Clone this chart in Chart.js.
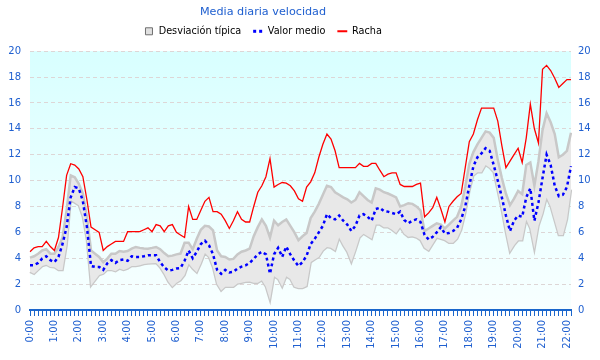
<!DOCTYPE html>
<html><head><meta charset="utf-8">
<script src="https://cdn.jsdelivr.net/npm/chart.js@4/dist/chart.umd.min.js"></script>
<style>html,body{margin:0;padding:0;background:#fff}canvas{display:block}</style>
</head><body>
<canvas id="c" width="600" height="360"></canvas>
<script>
// 10-minute steps from 0:00 to 22:10
const hours = ["0","1","2","3","4","5","6","7","8","9","10","11","12","13","14","15","16","17","18","19","20","21","22"];
const minutes = ["00","10","20","30","40","50"];
const categories = [];
hours.forEach(h => minutes.forEach(m => categories.push(h + ":" + m)));
categories.length = 134;

const racha = [4.5,4.8,4.9,4.9,5.3,4.9,4.6,5.6,7.9,10.4,11.3,11.2,10.9,10.3,8.5,6.4,6.2,6.0,4.6,4.9,5.1,5.3,5.3,5.3,6.05,6.05,6.05,6.05,6.2,6.35,6.05,6.6,6.5,6.05,6.5,6.6,6.0,5.8,5.6,8.0,7.0,7.0,7.7,8.4,8.7,7.6,7.6,7.4,6.9,6.3,6.9,7.6,7.0,6.8,6.8,8.0,9.1,9.6,10.3,11.7,9.5,9.7,9.85,9.8,9.6,9.2,8.6,8.4,9.5,9.9,10.6,11.8,12.8,13.6,13.2,12.3,11.0,11.0,11.0,11.0,11.0,11.33,11.1,11.1,11.33,11.33,10.8,10.3,10.5,10.6,10.6,9.7,9.54,9.54,9.54,9.7,9.8,7.2,7.5,7.9,8.7,7.8,6.8,8.0,8.4,8.75,9.0,11.0,13.0,13.6,14.7,15.6,15.6,15.6,15.6,14.6,12.7,11.0,11.5,12.0,12.5,11.4,13.3,15.9,14.0,12.9,18.6,18.9,18.5,17.9,17.2,17.5,17.8,17.8];

const valorMedio = [3.46,3.46,3.64,3.97,4.15,3.85,3.7,4.1,5.1,6.4,8.7,9.5,9.4,8.4,6.4,3.4,3.33,3.33,3.1,3.6,3.85,3.64,3.85,3.9,3.8,4.15,4.1,4.1,4.15,4.23,4.23,4.23,3.7,3.3,3.05,3.1,3.2,3.25,3.8,4.6,4.0,4.5,5.1,5.35,5.0,4.3,3.1,2.8,3.1,2.9,2.95,3.2,3.35,3.45,3.64,3.95,4.3,4.5,4.3,2.8,4.3,4.8,4.1,4.9,4.3,3.8,3.4,3.7,4.2,5.1,5.5,6.0,6.5,7.4,7.1,7.0,7.3,6.9,6.6,6.1,6.5,7.3,7.4,7.2,6.9,7.8,7.9,7.64,7.6,7.5,7.4,7.6,6.95,6.7,6.9,7.0,6.8,5.8,5.45,5.65,6.0,6.4,5.9,5.95,6.1,6.35,7.0,8.0,9.6,11.1,11.8,12.1,12.5,12.3,11.2,10.0,8.7,7.3,6.1,6.9,7.3,7.2,8.7,9.4,6.9,8.3,10.2,12.0,11.2,9.6,8.8,8.9,9.5,11.1];

const desvSup = [4.05,4.15,4.35,4.6,4.7,4.35,4.35,4.87,5.6,7.7,10.4,10.25,9.75,9.0,7.2,4.6,4.35,4.1,3.7,3.97,4.35,4.35,4.56,4.5,4.56,4.74,4.87,4.8,4.75,4.74,4.8,4.87,4.7,4.4,4.15,4.2,4.3,4.36,5.2,5.2,4.7,5.5,6.2,6.5,6.45,6.15,4.6,4.15,4.1,3.9,3.95,4.3,4.5,4.6,4.74,5.7,6.4,7.0,6.5,5.6,6.9,6.55,6.8,7.0,6.5,6.0,5.4,5.7,5.95,7.1,7.6,8.2,8.9,9.6,9.5,9.1,8.9,8.7,8.55,8.3,8.5,9.1,8.8,8.5,8.3,9.4,9.3,9.1,9.0,8.85,8.7,8.0,8.1,8.25,8.2,8.0,7.7,6.1,6.3,6.5,6.7,6.6,6.3,6.6,6.9,7.2,8.0,9.5,11.3,12.2,12.8,13.3,13.8,13.7,13.3,11.6,10.2,9.0,8.1,8.6,9.2,8.95,11.2,11.4,9.6,11.5,13.9,15.2,14.5,13.6,11.8,12.0,12.3,13.7];

const desvInf = [2.95,2.8,3.1,3.4,3.5,3.33,3.3,3.1,3.1,5.0,8.5,8.3,8.1,7.2,5.4,1.9,2.3,2.7,2.8,3.1,3.1,3.0,3.2,3.1,3.2,3.4,3.4,3.45,3.55,3.6,3.62,3.64,3.3,2.8,2.2,1.8,2.1,2.3,2.7,3.6,3.2,2.9,3.6,4.4,4.1,3.3,2.0,1.5,1.8,1.8,1.8,2.05,2.1,2.18,2.2,2.1,2.1,2.3,1.8,0.77,2.6,2.4,1.8,2.6,2.4,1.8,1.7,1.7,1.85,3.7,3.9,4.1,4.6,4.87,4.8,4.6,5.6,5.0,4.5,3.7,4.6,5.6,5.9,5.7,5.5,6.6,6.6,6.4,6.4,6.2,5.95,6.4,5.9,5.65,5.7,5.6,5.4,4.8,4.6,5.1,5.6,5.5,5.4,5.2,5.2,5.5,6.2,7.5,9.2,10.4,10.64,10.64,11.2,11.0,10.64,9.2,7.7,6.0,4.5,5.0,5.38,5.38,7.0,6.3,4.7,6.5,7.44,8.7,8.0,6.9,5.8,5.8,7.0,9.3];

const yTicks = [0,2,4,6,8,10,12,14,16,18,20];

const BLUE_TXT = '#2060d0';
const FONT = 'DejaVu Sans';

const bgPlugin = {
  id: 'bg',
  afterLayout(chart) {
    const dx = -37, dy = -5;
    [chart.titleBlock, chart.legend].forEach(b => {
      if (b) {
        b.left += dx; b.right += dx; b.top += dy; b.bottom += dy;
        if (b.adjustHitBoxes) b.adjustHitBoxes();
      }
    });
  },
  beforeDraw(chart) {
    const a = chart.chartArea, ctx = chart.ctx;
    const g = ctx.createLinearGradient(0, a.top, 0, a.bottom);
    g.addColorStop(0, '#d8ffff');
    g.addColorStop(1, '#f8ffff');
    ctx.save();
    ctx.fillStyle = g;
    ctx.fillRect(a.left, a.top, a.right - a.left, a.bottom - a.top);
    ctx.restore();
  }
};

new Chart(document.getElementById('c'), {
  type: 'line',
  data: {
    labels: categories,
    datasets: [
      { label: 'Desviación típica', data: desvSup, borderColor: '#c8c8c8', borderWidth: 2.5,
        backgroundColor: '#e8e8e8', fill: '+1', pointRadius: 0, tension: 0, order: 3 },
      { label: 'inf', data: desvInf, borderColor: '#c8c8c8', borderWidth: 2.5,
        backgroundColor: '#e8e8e8', fill: false, pointRadius: 0, tension: 0, order: 4 },
      { label: 'Valor medio', data: valorMedio, borderColor: '#0000ff', borderWidth: 2.5,
        borderDash: [3, 3], fill: false, pointRadius: 0, tension: 0, order: 1 },
      { label: 'Racha', data: racha, borderColor: '#ff0000', borderWidth: 1.3,
        fill: false, pointRadius: 0, tension: 0, order: 2 }
    ]
  },
  options: {
    responsive: false,
    animation: false,
    devicePixelRatio: 1,
    layout: { padding: { left: 0, right: 0, top: 10, bottom: 0 } },
    plugins: {
      title: {
        display: true, text: 'Media diaria velocidad', color: BLUE_TXT,
        font: { family: FONT, size: 11.2, weight: 'normal' },
        padding: { top: 0, bottom: -4 }
      },
      legend: {
        display: true,
        labels: {
          color: '#000', font: { family: FONT, size: 9.7 },
          usePointStyle: true, boxWidth: 10, boxHeight: 7, padding: 12,
          generateLabels: () => [
            { text: 'Desviación típica', fillStyle: '#e0e0e0', strokeStyle: '#707070', lineWidth: 1, pointStyle: 'rect', hidden: false, datasetIndex: 0 },
            { text: 'Valor medio', fillStyle: '#0000ff', strokeStyle: '#0000ff', lineWidth: 3, lineDash: [3, 3], pointStyle: 'line', hidden: false, datasetIndex: 2 },
            { text: 'Racha', fillStyle: '#ff0000', strokeStyle: '#ff0000', lineWidth: 2, pointStyle: 'line', hidden: false, datasetIndex: 3 }
          ]
        }
      },
      tooltip: { enabled: false }
    },
    scales: {
      x: {
        type: 'category',
        offset: false,
        border: { display: true, color: '#1a66cc', width: 2 },
        grid: { display: true, drawOnChartArea: false, drawTicks: true, tickLength: 6, color: '#1a66cc', lineWidth: 1 },
        ticks: {
          autoSkip: false, maxRotation: 90, minRotation: 90, padding: 4,
          color: BLUE_TXT, font: { family: FONT, size: 10 },
          callback: (v, i) => categories[i].endsWith(':00') ? categories[i] : ''
        },
        afterFit: s => { s.height = 50; }
      },
      y: {
        position: 'left', min: 0, max: 20,
        border: { display: false, dash: [4, 3] },
        grid: { color: '#ddd6d6', drawTicks: false, lineWidth: 1 },
        ticks: { stepSize: 2, padding: 9, color: BLUE_TXT, font: { family: FONT, size: 10 } },
        afterBuildTicks: s => { s.ticks = yTicks.map(v => ({ value: v })); },
        afterFit: s => { s.width = 30; }
      },
      y2: {
        position: 'right', min: 0, max: 20,
        border: { display: false },
        grid: { display: false, drawTicks: false },
        ticks: { stepSize: 2, padding: 7, color: BLUE_TXT, font: { family: FONT, size: 10 } },
        afterBuildTicks: s => { s.ticks = yTicks.map(v => ({ value: v })); },
        afterFit: s => { s.width = 29; }
      }
    }
  },
  plugins: [bgPlugin]
});
</script>
</body></html>
